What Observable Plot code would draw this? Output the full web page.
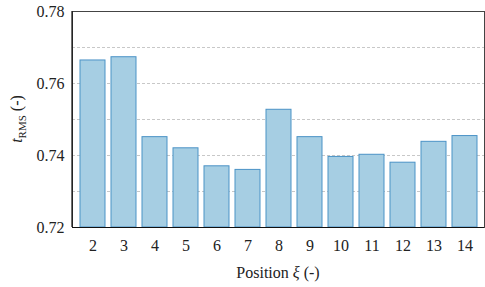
<!DOCTYPE html>
<html>
<head>
<meta charset="utf-8">
<script src="https://cdn.jsdelivr.net/npm/d3@7"></script>
<script src="https://cdn.jsdelivr.net/npm/@observablehq/plot@0.6"></script>
<style>
  html, body { margin: 0; padding: 0; background: #fff; }
  #chart svg { display: block; }
</style>
</head>
<body>
<div id="chart"></div>
<script>
const positions = [2, 3, 4, 5, 6, 7, 8, 9, 10, 11, 12, 13, 14];
const trms = [0.7664, 0.7673, 0.7451, 0.7420, 0.7370, 0.7360, 0.7527, 0.7451, 0.7396, 0.7402, 0.7380, 0.7438, 0.7454];
const yTicks = [0.72, 0.74, 0.76, 0.78];
const gridTicks = [0.73, 0.74, 0.75, 0.76, 0.77];
const yLabelMain = "t";
const yLabelSub = "RMS";
const yLabelTail = " (-)";
const xLabel = "Position ξ (-)";

const data = positions.map((p, i) => ({pos: p, v: trms[i]}));
const base = 0.72;
const FONT = "Liberation Serif";

const chart = Plot.plot({
  width: 485,
  height: 287,
  marginLeft: 72,
  marginRight: 1,
  marginTop: 11,
  marginBottom: 60,
  style: {fontSize: "16px", color: "#222", background: "#fff"},
  x: {type: "band", domain: positions, paddingInner: 0.2, paddingOuter: 0.08, label: null},
  y: {domain: [0.72, 0.78], label: null},
  marks: [
    Plot.gridY(gridTicks, {stroke: "#c8c8c8", strokeOpacity: 1, strokeDasharray: "3,2"}),
    Plot.barY(data, {x: "pos", y1: () => base, y2: "v", fill: "#a6cee3", stroke: "#4b93c6", strokeWidth: 1}),
    Plot.axisY(yTicks, {tickSize: 0, tickPadding: 8, tickFormat: d => d.toFixed(2), fontSize: 16}),
    Plot.axisX(positions, {tickSize: 0, tickPadding: 12, fontSize: 16}),
    Plot.frame({stroke: "#444", strokeWidth: 1}),
    Plot.ruleY([base], {stroke: "#111", strokeWidth: 1.2})
  ]
});

const svg = d3.select(chart);
// left axis line
svg.append("line")
  .attr("x1", 72).attr("x2", 72).attr("y1", 11).attr("y2", 227)
  .attr("stroke", "#111").attr("stroke-width", 1.2);
// y label with subscript
const yl = svg.append("text")
  .attr("transform", "translate(22,119) rotate(-90)")
  .attr("text-anchor", "middle")
  .attr("font-size", 16)
  .attr("fill", "#222");
yl.append("tspan").attr("font-style", "italic").text(yLabelMain);
yl.append("tspan").attr("font-size", 11).attr("dy", 4).text(yLabelSub);
yl.append("tspan").attr("dy", -4).text(yLabelTail);
// x label
const xl = svg.append("text")
  .attr("x", 278).attr("y", 278)
  .attr("text-anchor", "middle")
  .attr("font-size", 16)
  .attr("fill", "#222");
const parts = xLabel.split("ξ");
xl.append("tspan").text(parts[0]);
xl.append("tspan").attr("font-style", "italic").text("ξ");
xl.append("tspan").text(parts[1]);

// force serif font everywhere (inline !important)
svg.attr("font-family", FONT);
chart.style.setProperty("font-family", FONT, "important");
svg.selectAll("g, text, tspan").each(function() {
  this.setAttribute("font-family", FONT);
  this.style.setProperty("font-family", FONT, "important");
});

document.getElementById("chart").appendChild(chart);
</script>
</body>
</html>
